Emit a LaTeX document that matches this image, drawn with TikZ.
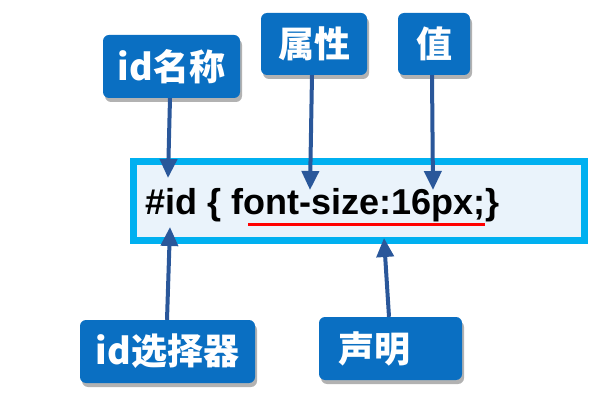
\documentclass[tikz,border=0pt]{standalone}
\usepackage{fontspec}
\setmainfont{Liberation Sans}
\newfontfamily\cjk{Noto Sans CJK SC}
\usetikzlibrary{arrows.meta,shadows}
\definecolor{boxblue}{HTML}{0A6FC2}
\definecolor{arrowblue}{HTML}{2A579A}
\definecolor{frameblue}{HTML}{00B0F0}
\definecolor{framefill}{HTML}{EAF3FB}
\begin{document}
\begin{tikzpicture}[x=1pt,y=-1pt,
  label box/.style={draw=none, fill=boxblue, rounded corners=6pt, text=white,
    font=\cjk\bfseries\fontsize{36}{36}\selectfont, inner sep=0pt,
    drop shadow={shadow xshift=2pt, shadow yshift=-4pt, fill=black, opacity=0.3}},
  pointer/.style={draw=arrowblue, line width=4pt,
    -{Triangle[width=17pt,length=19pt]}}]
\useasboundingbox (0,0) rectangle (608,406);
% main frame
\node[draw=frameblue, fill=framefill, line width=7pt, minimum width=451pt,
  minimum height=79.5pt, inner sep=0pt, anchor=north west] (frame) at (130,158) {};
\node[anchor=base west, inner sep=0pt, font=\bfseries\fontsize{36}{36}\selectfont]
  (code) at (145,215) {\#id \{ font-size:16px;\}};
\coordinate (ulA) at (248,225);
\coordinate (ulB) at (485,225);
\draw[red, line width=3pt] (ulA) -- (ulB);
% label boxes
\node[label box, minimum width=137pt, minimum height=63pt] (idname) at (171.5,66.5) {id名称};
\node[label box, minimum width=106pt, minimum height=62pt] (attr) at (314,44) {属性};
\node[label box, minimum width=72pt, minimum height=62pt] (val) at (434,44) {值};
\node[label box, minimum width=175pt, minimum height=63pt] (idsel) at (167.5,351.5) {id选择器};
\node[label box, minimum width=143pt, minimum height=63pt, text width=105pt,
  align=left, inner xsep=19pt] (decl) at (390.5,348.5) {声明};
% arrow tips
\coordinate (t1) at (168,178);
\coordinate (t2) at (310,190);
\coordinate (t3) at (433,190);
\coordinate (t4) at (170,227);
\coordinate (t5) at (384,238);
\draw[pointer] ([xshift=-1.5pt]idname.south) -- (t1);
\draw[pointer] ([xshift=-2pt]attr.south) -- (t2);
\draw[pointer] ([xshift=-2pt]val.south) -- (t3);
\draw[pointer] ([xshift=-0.5pt]idsel.north) -- (t4);
\draw[pointer] ([xshift=-1.5pt]decl.north) -- (t5);
\end{tikzpicture}
\end{document}
